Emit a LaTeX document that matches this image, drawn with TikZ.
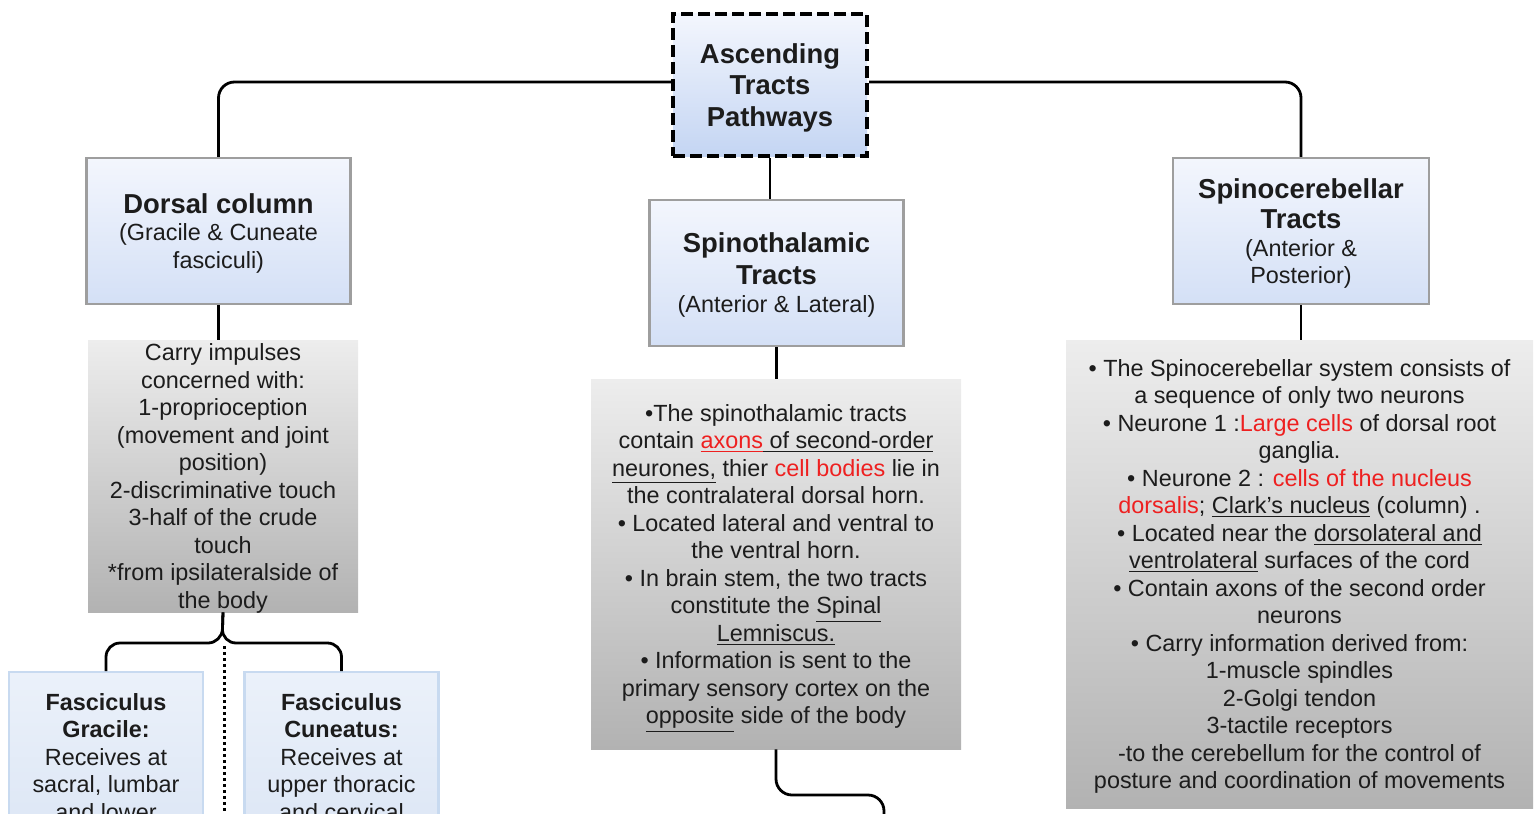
\documentclass[tikz,border=0pt]{standalone}
\usepackage{fontspec}
\setmainfont{Liberation Sans}
\usepackage{xcolor}
\usetikzlibrary{positioning,calc}

\definecolor{hlred}{HTML}{EE2020}
\definecolor{txtgray}{HTML}{1C1C1C}
\definecolor{blueTop}{HTML}{F3F6FD}
\definecolor{blueBot}{HTML}{D4E0F6}
\definecolor{rootBot}{HTML}{C4D5F3}
\definecolor{grayTop}{HTML}{EDEDED}
\definecolor{grayBot}{HTML}{B2B2B2}
\definecolor{subTop}{HTML}{EBF1FA}
\definecolor{subBot}{HTML}{DCE6F5}
\definecolor{subLine}{HTML}{C8DAF0}

\newcommand{\hl}[1]{\textcolor{hlred}{#1}}
\newcommand{\undl}[1]{\underline{#1}}
\newcommand{\headfont}{\fontsize{13.7}{15.6}\selectfont\bfseries}

\begin{document}
\begin{tikzpicture}[
  x=0.5pt, y=-0.5pt,
  box/.style={
    rectangle, align=center, inner sep=0pt, text=txtgray,
    text depth=0pt, font=\fontsize{11.7}{13.75}\selectfont
  },
  rootbox/.style={box, draw=black, line width=2pt,
    dash pattern=on 6pt off 2.5pt,
    top color=blueTop, bottom color=rootBot,
    minimum width=97pt, minimum height=71pt},
  headbox/.style={box, draw=black!38, line width=1.2pt,
    top color=blueTop, bottom color=blueBot},
  notebox/.style={box, top color=grayTop, bottom color=grayBot},
  subbox/.style={box, draw=subLine, line width=1.2pt,
    top color=subTop, bottom color=subBot,
    anchor=north, minimum width=97pt, inner ysep=10.5pt},
  conn/.style={line width=1.4pt, rounded corners=8pt},
  sepline/.style={line width=1.5pt, dash pattern=on 1.4pt off 1.6pt}
]

\useasboundingbox (0,0) rectangle (1535,813);
\clip (0,0) rectangle (1535,813);

% Blocks
\node[rootbox] (root) at (770,85) {\headfont Ascending\\[2pt]
  \headfont Tracts\\[2pt] \headfont Pathways};

\node[headbox, minimum width=132pt, minimum height=73pt] (dorsal) at (218.5,231)
  {\headfont Dorsal column\\(Gracile \& Cuneate\\fasciculi)};

\node[headbox, minimum width=127pt, minimum height=73pt] (spino) at (776.5,273)
  {\headfont Spinothalamic\\[2pt] \headfont Tracts\\[0.5pt](Anterior \& Lateral)};

\node[headbox, minimum width=128pt, minimum height=73pt] (cereb) at (1301,231)
  {\headfont Spinocerebellar\\[1.5pt] \headfont Tracts\\(Anterior \&\\Posterior)};

% Notes
\node[notebox, minimum width=135pt, minimum height=136pt] (lgray) at (223,476)
  {Carry impulses\\concerned with:\\1-proprioception\\(movement and joint\\
  position)\\2-discriminative touch\\3-half of the crude\\touch\\
  *from ipsilateralside of\\the body};

\node[notebox, minimum width=185pt, minimum height=185pt] (mgray) at (776,564)
  {•The spinothalamic tracts\\
  contain \hl{\undl{axons}}\undl{ of second-order}\\
  \undl{neurones,} thier \hl{cell bodies} lie in\\
  the contralateral dorsal horn.\\
  • Located lateral and ventral to\\
  the ventral horn.\\
  • In brain stem, the two tracts\\
  constitute the \undl{Spinal}\\
  \undl{Lemniscus.}\\
  • Information is sent to the\\
  primary sensory cortex on the\\
  \undl{opposite} side of the body};

\node[notebox, minimum width=233.5pt, minimum height=234pt] (rgray) at (1299.5,574)
  {• The Spinocerebellar system consists of\\
  a sequence of only two neurons\\
  • Neurone 1 :\hl{Large cells} of dorsal root\\
  ganglia.\\
  • Neurone 2 : \hl{cells of the nucleus}\\
  \hl{dorsalis}; \undl{Clark's nucleus} (column) .\\
  • Located near the \undl{dorsolateral and}\\
  \undl{ventrolateral} surfaces of the cord\\
  • Contain axons of the second order\\
  neurons\\
  • Carry information derived from:\\
  1-muscle spindles\\
  2-Golgi tendon\\
  3-tactile receptors\\
  -to the cerebellum for the control of\\
  posture and coordination of movements};

% Sub-blocks
\node[subbox] (gracile) at (106,671)
  {\bfseries Fasciculus\\\bfseries Gracile:\\Receives at\\sacral, lumbar\\and lower};
\node[subbox] (cuneatus) at (341.5,671)
  {\bfseries Fasciculus\\\bfseries Cuneatus:\\Receives at\\upper thoracic\\and cervical};

\coordinate (brc) at (222,643);
\coordinate (mgturn) at (884,795);
\coordinate (mgoff) at (884,840);
\coordinate (sepTop) at (224,646);
\coordinate (sepBot) at (224,820);

% Edges
\draw[conn] (root.west |- 0,82) -| (dorsal.north);
\draw[conn] (root.east |- 0,82) -| (cereb.north);
\draw[conn] (root.south) -- (root.south |- spino.north);
\draw[conn] (dorsal.south) -- (dorsal.south |- lgray.north);
\draw[conn] (spino.south) -- (spino.south |- mgray.north);
\draw[conn] (cereb.south) -- (cereb.south |- rgray.north);
\draw[conn] (mgray.south) |- (mgturn) -- (mgoff);
\draw[conn, rounded corners=7pt] (lgray.south) -- (brc) -| (gracile.north);
\draw[conn, rounded corners=7pt] (lgray.south) -- (brc) -| (cuneatus.north);
\draw[sepline] (sepTop) -- (sepBot);

\end{tikzpicture}
\end{document}
